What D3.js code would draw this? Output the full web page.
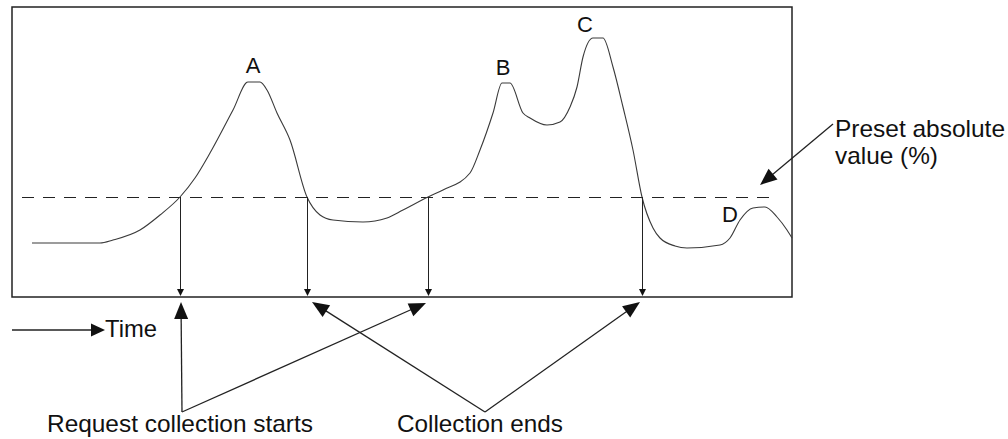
<!DOCTYPE html>
<html>
<head>
<meta charset="utf-8">
<script src="https://d3js.org/d3.v7.min.js"></script>
<style>
  body { margin: 0; background: #fff; }
  text { font-family: "Liberation Sans", Arial, sans-serif; fill: #111; }
</style>
</head>
<body>
<div id="container"></div>
<script>
var width = 1008, height = 439;

// signal trace (time units, level units)
var times  = [20, 88, 101, 128, 148, 168, 183, 198, 221, 236, 248, 255, 265, 278, 295, 308, 321, 351, 375, 391, 416, 431, 458, 468, 481, 490, 498, 511, 518, 535, 548, 558, 565, 571, 581, 591, 601, 611, 621, 630, 641, 648, 663, 675, 708, 718, 728, 741, 753, 765, 775, 780];
var levels = [54, 54, 57, 67, 82, 100, 119, 144, 187, 215, 215, 207, 184, 157, 100, 82, 77, 75, 79, 87, 100, 107, 124, 147, 184, 214, 214, 184, 179, 172, 175, 190, 210, 240, 259, 259, 230, 190, 147, 100, 69, 59, 51, 49, 52, 59, 77, 89, 90, 80, 67, 59];

var threshold = 100;                 // preset absolute value
var crossings = [168, 295, 416, 630]; // where the trace crosses the threshold
var peaks = [
  {name: "A", t: 241, v: 224},
  {name: "B", t: 491, v: 222},
  {name: "C", t: 573, v: 265},
  {name: "D", t: 718, v: 75}
];

var svg = d3.select('#container')
  .append('svg')
  .attr('width', width)
  .attr('height', height);

var x = d3.scaleLinear().domain([0, 780]).range([12, 792]);
var y = d3.scaleLinear().domain([0, 290]).range([297, 7]);

var ink = '#222';

function tri(tipX, tipY, angle, len, half) {
  // filled triangle arrowhead pointing along angle
  var bx = tipX - len * Math.cos(angle), by = tipY - len * Math.sin(angle);
  var px = -Math.sin(angle) * half, py = Math.cos(angle) * half;
  return 'M' + tipX + ',' + tipY + 'L' + (bx + px) + ',' + (by + py) + 'L' + (bx - px) + ',' + (by - py) + 'Z';
}

function arrow(x1, y1, x2, y2, len, half, sw) {
  var a = Math.atan2(y2 - y1, x2 - x1);
  svg.append('line')
    .attr('x1', x1).attr('y1', y1)
    .attr('x2', x2 - (len - 1) * Math.cos(a)).attr('y2', y2 - (len - 1) * Math.sin(a))
    .attr('stroke', ink).attr('stroke-width', sw);
  svg.append('path').attr('d', tri(x2, y2, a, len, half)).attr('fill', '#111');
}

function label(tx, ty, s, w) {
  svg.append('text').attr('x', tx).attr('y', ty)
    .style('font-size', '24px')
    .attr('textLength', w).attr('lengthAdjust', 'spacingAndGlyphs')
    .text(s);
}

// frame
svg.append('rect')
  .attr('x', x(0)).attr('y', y(290))
  .attr('width', x(780) - x(0)).attr('height', y(0) - y(290))
  .attr('fill', 'none').attr('stroke', ink).attr('stroke-width', 1.5);

// threshold line
svg.append('line')
  .attr('x1', x(10)).attr('x2', x(763))
  .attr('y1', y(threshold) + 0.5).attr('y2', y(threshold) + 0.5)
  .attr('stroke', ink).attr('stroke-width', 1)
  .attr('stroke-dasharray', '12,9');

// trace
var pts = times.map(function(t, i) { return [t, levels[i]]; });
var line = d3.line()
  .x(function(d) { return x(d[0]); })
  .y(function(d) { return y(d[1]); })
  .curve(d3.curveMonotoneX);
svg.append('path')
  .datum(pts)
  .attr('d', line)
  .attr('fill', 'none')
  .attr('stroke', '#3a3a3a')
  .attr('stroke-width', 1.1);

// drop arrows
crossings.forEach(function(c) {
  arrow(x(c) + 0.5, y(threshold), x(c) + 0.5, y(0) - 1, 7, 3.5, 1);
});

// peak labels
svg.selectAll('.peak')
  .data(peaks)
  .enter()
  .append('text')
  .attr('x', function(d) { return x(d.t); })
  .attr('y', function(d) { return y(d.v); })
  .attr('text-anchor', 'middle')
  .style('font-size', '22px')
  .text(function(d) { return d.name; });

// time arrow
arrow(12, 330, 105, 330, 14, 6.5, 1.3);
label(105, 337, 'Time', 52);

// request collection starts
arrow(182, 412, x(crossings[0]) + 1, 302, 17, 7, 1.3);
arrow(182, 412, x(crossings[2]) - 2, 303, 17, 7, 1.3);
label(47, 432, 'Request collection starts', 266);

// collection ends
arrow(485, 412, x(crossings[1]) + 5, 302, 17, 7, 1.3);
arrow(485, 412, x(crossings[3]) - 2, 302, 17, 7, 1.3);
label(397, 432, 'Collection ends', 166);

// preset absolute value
arrow(833, 124, 760, 185, 17, 7, 1.3);
label(835, 137, 'Preset absolute', 170);
label(835, 164, 'value (%)', 103);
</script>
</body>
</html>
